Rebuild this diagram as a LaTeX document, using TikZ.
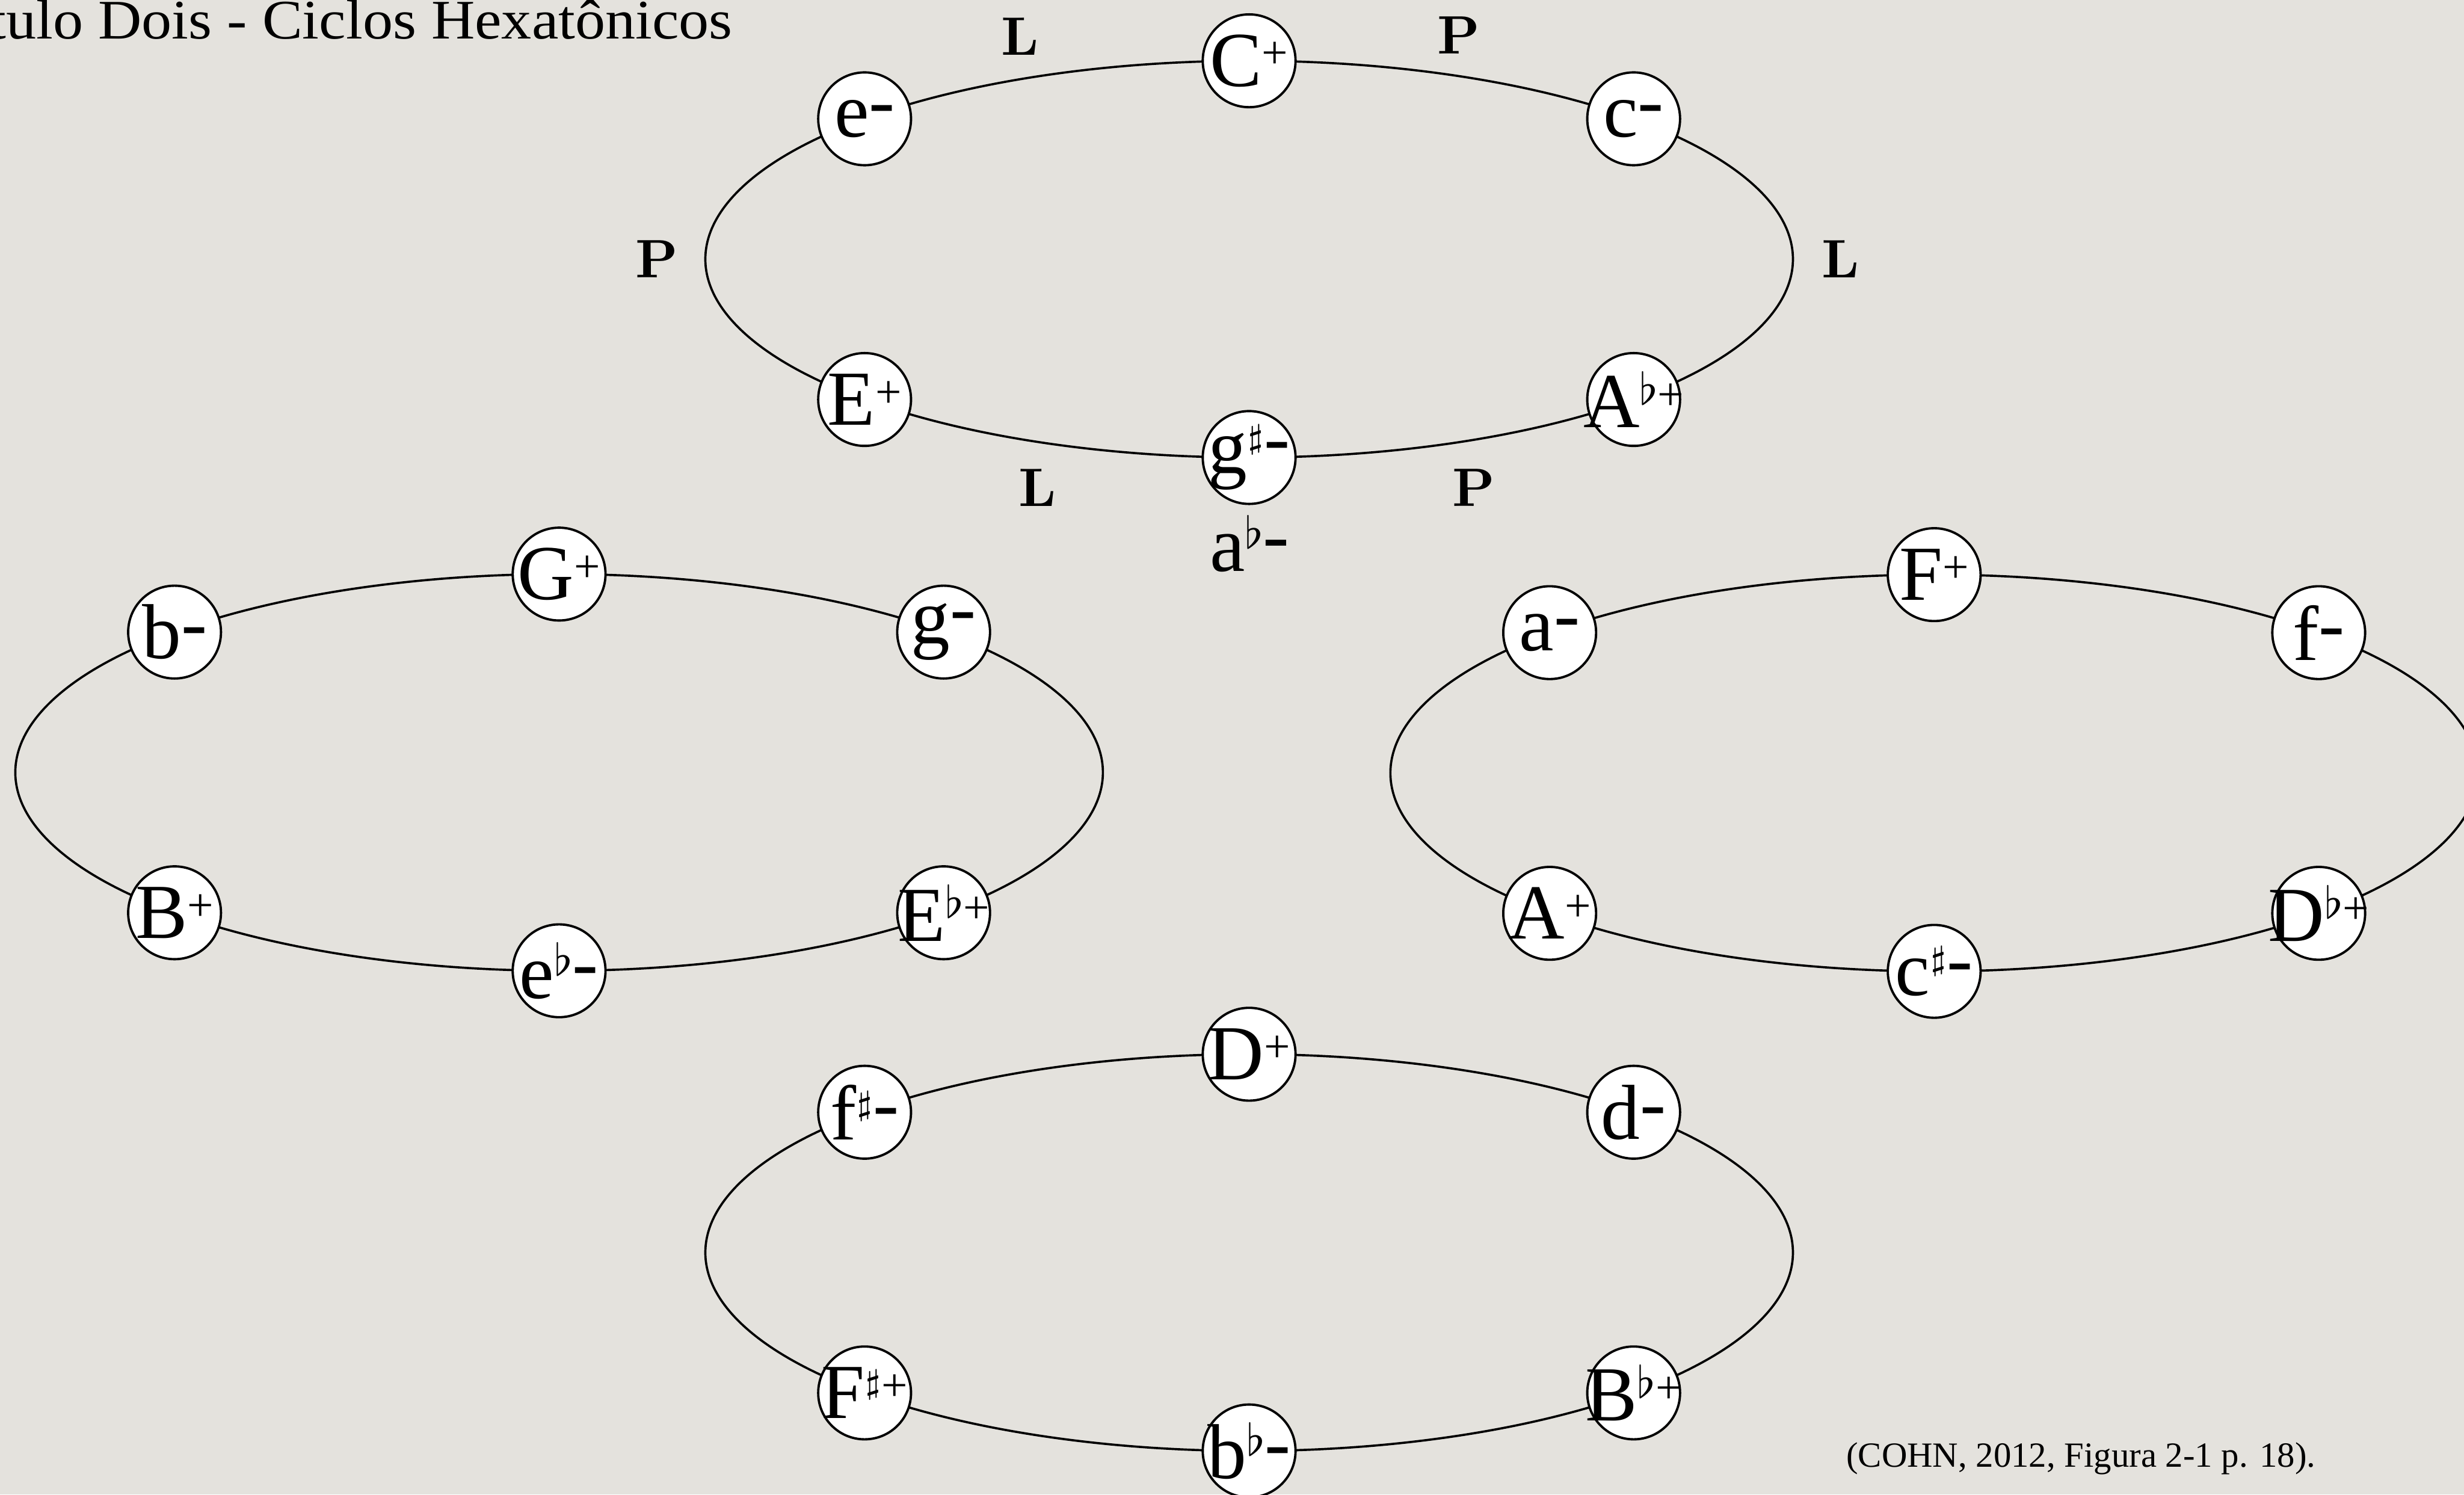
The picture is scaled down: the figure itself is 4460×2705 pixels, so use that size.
\documentclass[tikz,border=0pt]{standalone}
\usepackage{fontspec}
\newfontfamily\tnr{Liberation Serif}

% layers: paper texture colour, ring outlines, then the chord nodes
\pgfdeclarelayer{paper}
\pgfdeclarelayer{ring}
\pgfsetlayers{paper,ring,main}

\definecolor{linen}{RGB}{228,226,221}

% chord-name pieces: raised plus, raised minus, flat and sharp
\newcommand\Pl{\raisebox{3.2pt}{\fontsize{8.4pt}{8.4pt}\selectfont +}}
\newcommand\Mi{\raisebox{1.8pt}{-}}
\newcommand\Fl{\raisebox{4.2pt}{\fontsize{8pt}{8pt}\selectfont$\flat$}}
\newcommand\Sh{\raisebox{4.6pt}{\fontsize{6.4pt}{6.4pt}\selectfont$\sharp$}}
\newcommand\nm[1]{\makebox[0pt]{#1}}

% six chord nodes on an ellipse (a=984, b=359) centred at (#1,#2):
% top, upper right, lower right, bottom, lower left, upper left
\newcommand\hexnodes[9]{%
  \node[chord] (#3a) at (#1,#2-359)     {\nm{#4}};
  \node[chord] (#3b) at (#1+696,#2-254) {\nm{#5}};
  \node[chord] (#3c) at (#1+696,#2+254) {\nm{#6}};
  \node[chord] (#3d) at (#1,#2+359)     {\nm{#7}};
  \node[chord] (#3e) at (#1-696,#2+254) {\nm{#8}};
  \node[chord] (#3f) at (#1-696,#2-254) {\nm{#9}};}

% the elliptic cycle through six nodes, as exact Bezier arcs
\newcommand\hexring[6]{%
  \draw[ring] (#1.center)
    .. controls +(261,0) and +(-184.6,-67.3) .. (#2.center)
    .. controls +(384.4,140.3) and +(384.4,-140.3) .. (#3.center)
    .. controls +(-184.6,67.3) and +(261,0) .. (#4.center)
    .. controls +(-261,0) and +(184.6,67.3) .. (#5.center)
    .. controls +(-384.4,-140.3) and +(-384.4,140.3) .. (#6.center)
    .. controls +(184.6,-67.3) and +(-261,0) .. (#1.center);}

\begin{document}
\begin{tikzpicture}[x=0.1pt,y=-0.1pt,
  chord/.style={circle,draw=black,line width=0.42pt,fill=white,
    minimum size=16.8pt,inner sep=0pt,
    font=\tnr\fontsize{14.1pt}{14.1pt}\selectfont},
  ring/.style={draw=black,line width=0.4pt},
  oplabel/.style={inner sep=0pt,font=\bfseries\fontsize{9.8pt}{9.8pt}\selectfont}]

\useasboundingbox (0,0) rectangle (4460,2705);
\begin{pgfonlayer}{paper}
  \fill[linen] (0,0) rectangle (4460,2705);
\end{pgfonlayer}

% heading and source
\node[anchor=base east,inner sep=0pt,font=\tnr\fontsize{10.1pt}{10.1pt}\selectfont]
  (title) at (1328,70) {\scalebox{1.08}[1]{Capítulo Dois - Ciclos Hexatônicos}};
\node[anchor=base west,inner sep=0pt,font=\tnr\fontsize{6.4pt}{6.4pt}\selectfont]
  (source) at (3340,2655) {(COHN, 2012, Figura 2-1 p. 18).};

% the four hexatonic cycles
\hexnodes{2261}{469}{t}{C\Pl}{c\Mi}{A\Fl\Pl}{g\Sh\Mi}{E\Pl}{e\Mi}
\hexnodes{1012}{1398}{l}{G\Pl}{g\Mi}{E\Fl\Pl}{e\Fl\Mi}{B\Pl}{b\Mi}
\hexnodes{3501}{1399}{r}{F\Pl}{f\Mi}{D\Fl\Pl}{c\Sh\Mi}{A\Pl}{a\Mi}
\hexnodes{2261}{2267}{b}{D\Pl}{d\Mi}{B\Fl\Pl}{b\Fl\Mi}{F\Sh\Pl}{f\Sh\Mi}

\begin{pgfonlayer}{ring}
  \hexring{ta}{tb}{tc}{td}{te}{tf}
  \hexring{la}{lb}{lc}{ld}{le}{lf}
  \hexring{ra}{rb}{rc}{rd}{re}{rf}
  \hexring{ba}{bb}{bc}{bd}{be}{bf}
\end{pgfonlayer}

% enharmonic spelling under g sharp minor
\node[anchor=base,inner sep=0pt,font=\tnr\fontsize{14.3pt}{14.3pt}\selectfont]
  (enh) at (2262,1034) {a\Fl\Mi};

% L and P transformations around the first cycle
\node[oplabel] (opL1) at (1846,66)  {L};
\node[oplabel] (opP1) at (2640,64)  {P};
\node[oplabel] (opP2) at (1189,469) {P};
\node[oplabel] (opL2) at (3331,469) {L};
\node[oplabel] (opL3) at (1878,883) {L};
\node[oplabel] (opP3) at (2668,883) {P};
\end{tikzpicture}
\end{document}
